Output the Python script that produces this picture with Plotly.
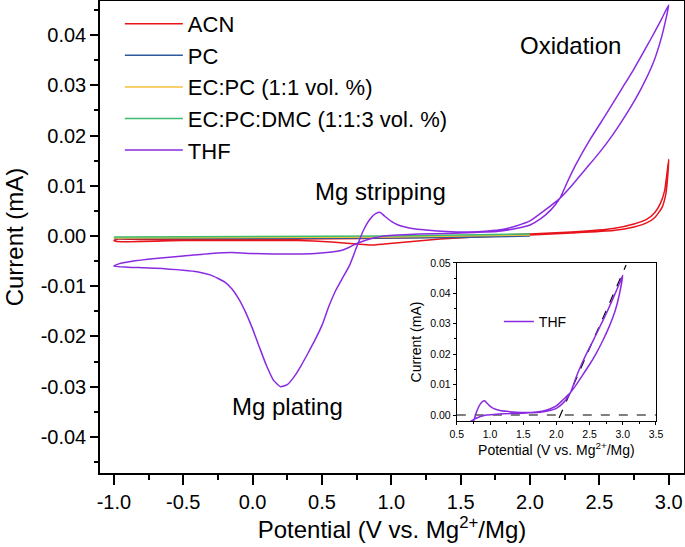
import plotly.graph_objects as go

# ---------------- data ----------------
acn_v = [-1.0, -0.98, -0.5, 0.0, 0.33, 0.57, 0.75, 0.85, 0.95, 1.15, 1.35, 1.6, 1.8, 2.0, 2.3, 2.6,
         2.75, 2.84, 2.9, 2.95, 2.98, 2.99, 3.0,
         2.985, 2.97, 2.94, 2.9, 2.84, 2.75, 2.6, 2.3, 2.0, 1.6, 1.2, 0.8, 0.3, -0.3, -0.8, -0.97, -1.0]
acn_i = [-0.0009, -0.0011, -0.0009, -0.0009, -0.0009, -0.0012, -0.0016, -0.0018, -0.0016, -0.0011,
         -0.0006, -0.0002, 0.0000, 0.0002, 0.0006, 0.0011,
         0.0018, 0.0026, 0.0037, 0.0056, 0.0085, 0.0110, 0.0153,
         0.0120, 0.0090, 0.0065, 0.0047, 0.0033, 0.0024, 0.0015, 0.0008, 0.0004, 0.0000, -0.0003,
         -0.0005, -0.0006, -0.0007, -0.0007, -0.0006, -0.0009]

pc_v = [-1.0, 0.0, 1.0, 1.5, 2.0, 1.5, 1.0, 0.0, -1.0]
pc_i = [-0.0005, -0.0005, -0.0004, -0.0002, 0.0000, -0.0003, -0.0004, -0.0005, -0.0005]

ecpc_v = [-1.0, 0.0, 1.0, 1.5, 2.0, 1.5, 1.0, 0.0, -1.0]
ecpc_i = [-0.0004, -0.0003, -0.0002, 0.0000, 0.0002, 0.0000, -0.0002, -0.0003, -0.0004]

ecpcdmc_v = [-1.0, 0.0, 1.0, 1.5, 2.0, 1.5, 1.0, 0.0, -1.0]
ecpcdmc_i = [-0.0002, -0.0001, 0.0000, 0.0002, 0.0004, 0.0002, 0.0000, -0.0001, -0.0002]

thf_v = [-1.0, -0.9, -0.8, -0.7, -0.6, -0.5, -0.4, -0.3, -0.2, -0.15, -0.1, -0.05, 0.0, 0.05,
         0.1, 0.15, 0.2, 0.25, 0.3, 0.35, 0.4, 0.45, 0.5, 0.55, 0.6, 0.65, 0.7, 0.75, 0.8, 0.85,
         0.89, 0.92, 0.95, 1.0, 1.05, 1.15, 1.25, 1.4, 1.55, 1.7, 1.8, 1.9, 2.0, 2.1, 2.215,
         2.3, 2.4, 2.5, 2.6, 2.7, 2.8, 2.89, 2.95, 3.0,
         2.95, 2.9, 2.84, 2.75, 2.65, 2.55, 2.43, 2.33, 2.27, 2.215, 2.15, 2.08, 2.0, 1.9, 1.76,
         1.6, 1.4, 1.2, 1.05, 0.95, 0.87, 0.81, 0.75, 0.7, 0.65, 0.57, 0.45, 0.3, 0.15, 0.0,
         -0.15, -0.3, -0.5, -0.7, -0.88, -0.96, -1.0]
thf_i = [-0.0060, -0.0062, -0.0063, -0.0064, -0.0066, -0.0068, -0.0071, -0.0078, -0.0092, -0.0105,
         -0.0125, -0.0152, -0.0185, -0.0222, -0.0258, -0.0287, -0.0300, -0.0296, -0.0280, -0.0258,
         -0.0233, -0.0207, -0.0178, -0.0140, -0.0108, -0.0083, -0.0058, -0.0022, 0.0012, 0.0035,
         0.0045, 0.0047, 0.0040, 0.0029, 0.0022, 0.0015, 0.0012, 0.0009, 0.0008, 0.0010, 0.0013,
         0.0020, 0.0030, 0.0050, 0.0075,
         0.0100, 0.0133, 0.0166, 0.0203, 0.0245, 0.0293, 0.0346, 0.0398, 0.0460,
         0.0433, 0.0407, 0.0377, 0.0333, 0.0288, 0.0243, 0.0191, 0.0142, 0.0108, 0.0075, 0.0052,
         0.0035, 0.0022, 0.0015, 0.0009, 0.0007, 0.0005, 0.0004, 0.0002, 0.0000, -0.0004, -0.0009,
         -0.0015, -0.0022, -0.0028, -0.0032, -0.0035, -0.0036, -0.0036, -0.0035, -0.0033, -0.0035,
         -0.0040, -0.0045, -0.0051, -0.0055, -0.0060]

# inset guide lines (zero line and linear onset fit)
zero_v = [0.5, 3.5]
zero_i = [0.0, 0.0]
onset_v = [2.04, 3.05]
onset_i = [-0.001, 0.0493]

series_names = ["ACN", "PC", "EC:PC (1:1 vol. %)", "EC:PC:DMC (1:1:3 vol. %)", "THF"]
series_v = [acn_v, pc_v, ecpc_v, ecpcdmc_v, thf_v]
series_i = [acn_i, pc_i, ecpc_i, ecpcdmc_i, thf_i]
series_colors = ["#e8131b", "#2d5a9a", "#f5c33b", "#3dbb6e", "#8a2be2"]

main_xtick_vals = [-1.0, -0.5, 0.0, 0.5, 1.0, 1.5, 2.0, 2.5, 3.0]
main_xtick_text = ["-1.0", "-0.5", "0.0", "0.5", "1.0", "1.5", "2.0", "2.5", "3.0"]
main_ytick_vals = [-0.04, -0.03, -0.02, -0.01, 0.0, 0.01, 0.02, 0.03, 0.04]
main_ytick_text = ["-0.04", "-0.03", "-0.02", "-0.01", "0.00", "0.01", "0.02", "0.03", "0.04"]
inset_xtick_vals = [0.5, 1.0, 1.5, 2.0, 2.5, 3.0, 3.5]
inset_xtick_text = ["0.5", "1.0", "1.5", "2.0", "2.5", "3.0", "3.5"]
inset_ytick_vals = [0.0, 0.01, 0.02, 0.03, 0.04, 0.05]
inset_ytick_text = ["0.00", "0.01", "0.02", "0.03", "0.04", "0.05"]

notes_text = ["Oxidation", "Mg stripping", "Mg plating"]
notes_v = [2.29, 0.92, 0.25]
notes_i = [0.038, 0.0088, -0.034]

FONT = "Arial, 'Liberation Sans', sans-serif"
SMOOTH = dict(shape="spline", smoothing=0.5)

fig = go.Figure()
for name, v, i, c in zip(series_names, series_v, series_i, series_colors):
    fig.add_trace(go.Scatter(x=v, y=i, mode="lines", name=name,
                             line=dict(color=c, width=1.5, **SMOOTH)))

# inset
fig.add_trace(go.Scatter(x=zero_v, y=zero_i, mode="lines", showlegend=False,
                         xaxis="x2", yaxis="y2",
                         line=dict(color="black", width=1.2, dash="dash")))
fig.add_trace(go.Scatter(x=onset_v, y=onset_i, mode="lines", showlegend=False,
                         xaxis="x2", yaxis="y2",
                         line=dict(color="black", width=1.2, dash="dash")))
fig.add_trace(go.Scatter(x=thf_v, y=thf_i, mode="lines", name="THF",
                         xaxis="x2", yaxis="y2", legend="legend2",
                         line=dict(color=series_colors[4], width=1.5, **SMOOTH)))

for t, x, y in zip(notes_text, notes_v, notes_i):
    fig.add_annotation(x=x, y=y, xref="x", yref="y", text=t, showarrow=False,
                       font=dict(size=24, color="black", family=FONT))

axis_common = dict(showline=True, linecolor="black", mirror=True, ticks="outside",
                   tickcolor="black", showgrid=False, zeroline=False, automargin=False)

fig.update_layout(
    width=685, height=547,
    margin=dict(l=100, r=1, t=1, b=74, autoexpand=False),
    paper_bgcolor="white", plot_bgcolor="white",
    font=dict(family=FONT, color="black"),
    xaxis=dict(**axis_common, range=[-1.1, 3.11], linewidth=1.5,
               tickvals=main_xtick_vals, ticktext=main_xtick_text,
               ticklen=10, tickwidth=1.5, tickfont=dict(size=20),
               minor=dict(ticks="outside", dtick=0.25, ticklen=5, tickwidth=1.5, tickcolor="black"),
               title=dict(text="Potential (V vs. Mg<sup>2+</sup>/Mg)", font=dict(size=24), standoff=8)),
    yaxis=dict(**axis_common, range=[-0.0472, 0.0468], linewidth=1.5,
               tickvals=main_ytick_vals, ticktext=main_ytick_text,
               ticklen=8, tickwidth=1.5, tickfont=dict(size=20),
               minor=dict(ticks="outside", dtick=0.005, tick0=0, ticklen=4, tickwidth=1.5, tickcolor="black"),
               title=dict(text="Current (mA)", font=dict(size=24), standoff=10)),
    xaxis2=dict(**axis_common, anchor="y2", domain=[0.611, 0.952], range=[0.5, 3.5],
                linewidth=1.2, tickvals=inset_xtick_vals, ticktext=inset_xtick_text,
                ticklen=3, tickwidth=1, tickfont=dict(size=10.5),
                minor=dict(ticks="outside", dtick=0.25, ticklen=2, tickwidth=1, tickcolor="black"),
                title=dict(text="Potential (V vs. Mg<sup>2+</sup>/Mg)", font=dict(size=14), standoff=3)),
    yaxis2=dict(**axis_common, anchor="x2", domain=[0.110, 0.445], range=[-0.002, 0.05],
                linewidth=1.2, tickvals=inset_ytick_vals, ticktext=inset_ytick_text,
                ticklen=3, tickwidth=1, tickfont=dict(size=10.5),
                minor=dict(ticks="outside", dtick=0.005, tick0=0, ticklen=2, tickwidth=1, tickcolor="black"),
                title=dict(text="Current (mA)", font=dict(size=14), standoff=5)),
    legend=dict(x=0.034, y=0.996, xanchor="left", yanchor="top", bgcolor="rgba(0,0,0,0)",
                font=dict(size=22), itemwidth=58, tracegroupgap=0),
    legend2=dict(x=0.683, y=0.32, xanchor="left", yanchor="middle", bgcolor="rgba(0,0,0,0)",
                 font=dict(size=14), itemwidth=30),
)

# the page body has a default 8px margin; remove it so the figure sits at the window's corner
fig.write_html("out.html", config={"displayModeBar": False},
               post_script="document.body.style.margin='0px';")
